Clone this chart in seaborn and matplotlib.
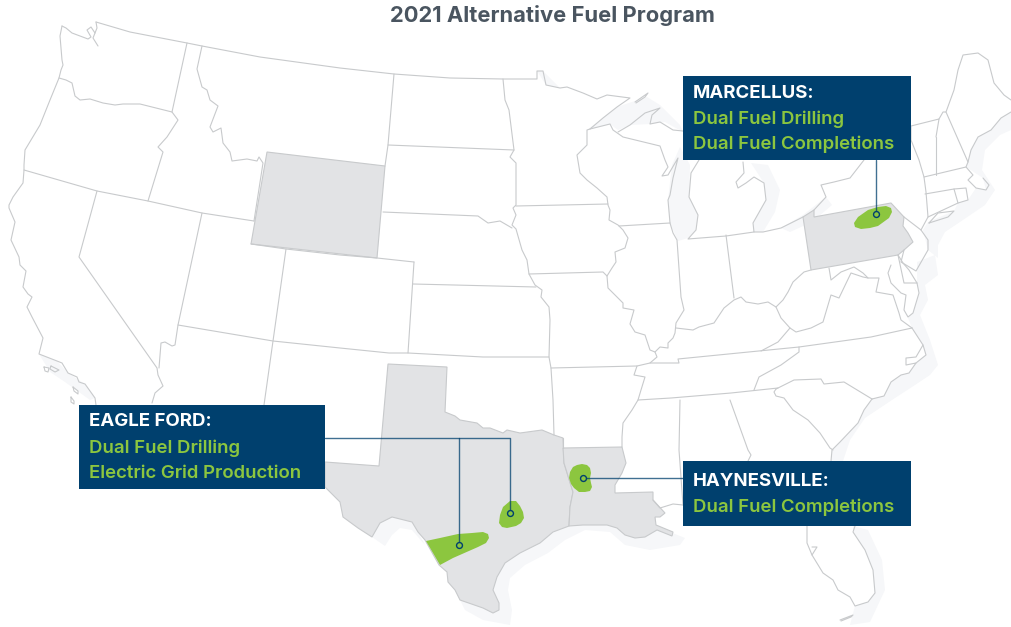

import matplotlib

matplotlib.use("Agg")

import matplotlib.pyplot as plt
import pandas as pd
import seaborn as sns

NAVY = "#00406e"
GREEN = "#8cc63f"
BORDER = "#c8cacc"
STATE_FILL = "#e2e3e5"
SHADE = "#f6f7f9"

TITLE = "2021 Alternative Fuel Program"

# highlighted states
WYOMING = [(267, 152), (385, 166), (377, 258), (251, 244)]
PENNSYLVANIA = [(803, 217), (814, 210), (814, 217), (891, 203), (904, 217), (903, 226), (908, 233), (913, 242),
                (904, 250), (898, 255), (811, 270)]
TEXAS = [(388, 364), (447, 367), (445, 412), (455, 416), (460, 420), (477, 423), (483, 428), (490, 428), (503, 433),
         (507, 430), (520, 433), (542, 430), (554, 435), (563, 438), (564, 463), (573, 492), (570, 507), (569, 526),
         (553, 532), (540, 543), (520, 553), (505, 563), (497, 577), (493, 590), (499, 603), (499, 610), (493, 613),
         (483, 608), (460, 600), (455, 590), (448, 582), (447, 572), (439, 565), (425, 540), (418, 532), (412, 522),
         (392, 517), (380, 523), (372, 537), (358, 528), (343, 517), (340, 502), (325, 487), (325, 462), (379, 466)]
LOUISIANA = [(563, 448), (622, 447), (626, 463), (622, 473), (615, 485), (615, 493), (653, 492), (653, 500),
             (665, 513), (660, 517), (655, 517), (656, 525), (673, 532), (672, 536), (657, 530), (645, 537),
             (635, 538), (625, 535), (617, 528), (607, 525), (583, 525), (569, 526), (570, 507), (573, 492), (564, 463)]

# green play areas
EAGLE_FORD_WEST = [(426, 541), (440, 538), (458, 534), (472, 533), (483, 532), (488, 534), (489, 538), (486, 543),
                   (478, 547), (453, 558), (440, 565)]
EAGLE_FORD_EAST = [(510, 501), (516, 501), (520, 506), (523, 512), (524, 518), (521, 523), (516, 526), (507, 528),
                   (502, 527), (499, 523), (500, 515), (503, 507)]
HAYNESVILLE = [(582, 464), (587, 465), (590, 468), (591, 473), (590, 478), (591, 483), (592, 487), (590, 491),
               (585, 492), (579, 492), (574, 488), (571, 484), (569, 478), (570, 472), (573, 467), (577, 465)]
MARCELLUS = [(854, 223), (858, 217), (868, 210), (878, 207), (886, 206), (891, 208), (892, 212), (889, 218),
             (878, 226), (870, 228), (861, 229), (855, 227)]

# pale water shading along the coasts
SHADES = [
    [(537, 71), (543, 71), (560, 88), (546, 85)],
    [(587, 130), (603, 118), (617, 107), (647, 97), (660, 105), (680, 125), (683, 132), (665, 122), (650, 124),
     (630, 125), (618, 130), (610, 124)],
    [(668, 200), (672, 165), (680, 147), (690, 165), (689, 197), (698, 215), (696, 230), (688, 238), (678, 241), (670, 223)],
    [(751, 163), (768, 165), (780, 190), (775, 212), (763, 232), (753, 232), (753, 223), (766, 200), (764, 183)],
    [(781, 228), (803, 215), (826, 197), (832, 205), (812, 222), (790, 232)],
    [(928, 250), (923, 230), (928, 222), (954, 211), (958, 203), (968, 200), (976, 188), (986, 190), (983, 178),
     (966, 167), (971, 150), (978, 137), (991, 130), (1001, 118), (1011, 112), (1011, 130), (1000, 135), (985, 150),
     (982, 170), (995, 190), (985, 205), (960, 222), (945, 232), (938, 245), (938, 258)],
    [(917, 262), (935, 255), (938, 275), (925, 285), (928, 300), (920, 315), (930, 340), (938, 365), (930, 375),
     (915, 385), (895, 398), (880, 408), (865, 418), (850, 440), (843, 461), (831, 461), (832, 450), (840, 442),
     (858, 423), (864, 410), (872, 399), (884, 396), (891, 382), (901, 375), (909, 373), (916, 363), (926, 355),
     (923, 345), (912, 328), (908, 318), (913, 313), (919, 293), (917, 283)],
    [(853, 526), (868, 530), (882, 560), (885, 590), (870, 622), (850, 625), (855, 606), (868, 602), (875, 593),
     (873, 570), (865, 550), (853, 532)],
    [(569, 526), (553, 532), (540, 543), (520, 553), (505, 563), (497, 577), (493, 590), (499, 603), (499, 610),
     (493, 613), (483, 608), (460, 600), (465, 610), (483, 620), (510, 625), (512, 610), (508, 590), (510, 578),
     (525, 565), (548, 553), (565, 540), (585, 530), (610, 532), (625, 545), (650, 550), (680, 545), (685, 538),
     (670, 532), (657, 530), (645, 537), (635, 538), (617, 528), (607, 525), (583, 525)],
    [(372, 537), (385, 546), (392, 535), (400, 528), (412, 530), (425, 545), (418, 532), (412, 522), (392, 517), (380, 523)],
    [(39, 354), (57, 361), (68, 373), (85, 384), (95, 398), (90, 400), (65, 382), (50, 372)],
]

# state lines and coasts
BORDERS = [
    # canada
    [(96, 22), (130, 32), (187, 43), (202, 46), (260, 57), (340, 68), (394, 74), (450, 78), (503, 79), (537, 79),
     (537, 71), (543, 71), (546, 85), (560, 88), (567, 87), (583, 93), (597, 99), (607, 95), (630, 98), (617, 107),
     (603, 118), (590, 129), (587, 130), (587, 145), (577, 155), (580, 173), (587, 180), (597, 188), (607, 197),
     (608, 205), (610, 210), (609, 220), (618, 225), (623, 230), (628, 238), (625, 248), (615, 252), (616, 262),
     (612, 268), (607, 276), (608, 288), (623, 303), (623, 308), (634, 310), (630, 324), (635, 332), (645, 335),
     (650, 350), (655, 352), (657, 357), (650, 363), (637, 366), (634, 375), (645, 377), (641, 390), (638, 400),
     (632, 410), (623, 423), (622, 437), (622, 447)],
    # washington and oregon coast
    [(62, 26), (60, 36), (62, 60), (63, 65), (61, 70), (59, 78), (50, 100), (40, 125), (25, 150), (24, 165), (24, 170),
     (23, 183), (13, 197), (9, 205), (9, 208), (15, 222), (11, 240), (19, 257), (20, 265), (26, 271), (23, 287),
     (28, 294), (32, 297), (27, 307), (32, 317), (43, 338), (39, 354), (57, 361), (62, 363), (68, 373), (77, 377),
     (79, 382), (85, 384), (95, 398), (96, 405)],
    [(62, 26), (66, 28), (72, 33), (88, 39), (91, 37), (87, 30), (91, 27), (95, 33), (93, 38), (98, 46)],
    [(96, 22), (97, 28), (95, 33)],
    [(59, 78), (66, 80), (72, 83), (75, 96), (80, 100), (90, 99), (103, 103), (115, 105), (123, 104), (140, 104), (172, 112)],
    [(187, 43), (172, 112), (178, 120), (167, 137), (158, 147), (163, 152), (148, 201)],
    [(24, 170), (97, 191), (148, 201), (202, 213), (254, 221)],
    [(97, 191), (79, 257), (157, 368), (158, 375), (163, 386), (155, 393), (152, 403)],
    [(202, 213), (178, 325), (175, 345), (172, 346), (165, 342), (161, 343), (159, 368)],
    [(178, 325), (273, 341), (340, 348), (389, 353), (408, 353), (483, 357), (549, 357)],
    [(286, 249), (273, 341), (264, 405)],
    [(251, 244), (286, 249), (340, 255), (377, 258), (414, 262)],
    [(202, 46), (197, 69), (202, 87), (207, 90), (210, 100), (218, 106), (210, 127), (213, 132), (221, 128), (223, 143),
     (230, 152), (232, 161), (247, 159), (257, 161), (259, 157), (263, 163), (254, 221)],
    [(394, 74), (388, 145), (385, 166)],
    [(388, 145), (514, 150)],
    [(503, 79), (505, 100), (509, 110), (514, 150), (510, 157), (516, 163), (516, 205), (513, 208), (516, 215),
     (512, 225), (516, 229), (522, 250), (527, 260), (529, 274), (535, 285), (542, 290), (541, 297), (549, 307),
     (550, 320), (549, 357), (551, 368), (553, 400), (554, 435)],
    [(383, 212), (478, 216), (488, 223), (500, 221), (512, 228)],
    [(516, 206), (608, 204)],
    [(529, 274), (603, 272), (607, 276)],
    [(413, 284), (536, 287)],
    [(414, 262), (408, 353)],
    [(551, 368), (637, 366)],
    [(563, 438), (563, 448)],
    [(590, 129), (610, 124), (613, 130), (623, 137), (660, 146), (665, 160), (668, 167), (662, 176), (668, 175),
     (678, 158), (673, 178), (670, 195), (668, 200), (670, 223)],
    [(619, 226), (670, 223), (673, 233), (677, 240), (681, 297), (684, 310), (676, 323), (675, 333), (673, 338),
     (668, 343), (668, 348), (660, 347), (655, 352)],
    # lake superior and the upper peninsula
    [(618, 132), (630, 125), (645, 113), (660, 108), (652, 115), (650, 124), (660, 122), (673, 130), (683, 131)],
    [(635, 102), (648, 93), (645, 97), (636, 103)],
    # lower michigan
    [(699, 160), (691, 173), (689, 197), (698, 215), (696, 230), (688, 239), (726, 236), (754, 232), (753, 223),
     (766, 200), (764, 183), (754, 177), (746, 183), (738, 188), (736, 182), (744, 173), (743, 162)],
    [(754, 232), (763, 232), (781, 228), (803, 217)],
    [(814, 210), (826, 197), (821, 185), (834, 182), (850, 178), (864, 160)],
    # new york and new england
    [(911, 126), (911, 140), (919, 160), (924, 177), (926, 192), (928, 217), (921, 230), (904, 217)],
    [(929, 223), (938, 213), (954, 211), (948, 217), (929, 223)],
    [(925, 194), (954, 189), (958, 203)],
    [(928, 217), (958, 203), (968, 200), (966, 188), (954, 189)],
    [(924, 177), (966, 167), (973, 175), (968, 180), (976, 188), (986, 190), (989, 185), (983, 178)],
    [(936, 137), (936, 175)],
    [(911, 126), (939, 119), (936, 137)],
    [(939, 119), (943, 112), (946, 112), (968, 162), (966, 167)],
    [(946, 112), (954, 90), (958, 70), (963, 55), (978, 53), (988, 60), (994, 83), (1004, 95), (1011, 100)],
    [(1011, 112), (1001, 118), (991, 130), (978, 137), (971, 150), (968, 162)],
    # ohio valley
    [(726, 235), (734, 298)],
    [(676, 328), (693, 330), (699, 327), (714, 323), (724, 308), (734, 300), (741, 297), (746, 302), (758, 304),
     (768, 302), (776, 307), (783, 300), (788, 292), (793, 282), (804, 272), (811, 270)],
    [(776, 307), (781, 318), (790, 328), (796, 332), (811, 328), (823, 322), (831, 295), (839, 298), (851, 273),
     (863, 277), (868, 278), (879, 278), (876, 292), (893, 295), (899, 313), (901, 320), (912, 328)],
    [(829, 268), (831, 280), (841, 272), (854, 267), (863, 273), (868, 278)],
    [(790, 328), (778, 342), (761, 351)],
    [(912, 328), (871, 337), (799, 347), (678, 359), (679, 363), (650, 363)],
    [(638, 400), (671, 398), (731, 393), (778, 388)],
    [(799, 347), (799, 352), (781, 365), (759, 377), (754, 390)],
    [(776, 389), (794, 380), (821, 379), (824, 384), (844, 382), (872, 399)],
    [(776, 389), (774, 392), (776, 396), (784, 398), (793, 410), (808, 420), (820, 433), (830, 448), (833, 450)],
    [(872, 399), (864, 410), (858, 423), (840, 442), (832, 450), (831, 461)],
    [(872, 399), (884, 396), (891, 382), (901, 375), (909, 373), (916, 363), (906, 365), (906, 358), (916, 357),
     (923, 345), (912, 328)],
    [(923, 345), (926, 355), (916, 363)],
    # delaware, maryland, new jersey
    [(898, 255), (904, 283), (917, 283), (919, 293), (913, 313), (908, 317), (904, 310), (906, 295), (901, 293),
     (898, 290), (891, 283), (888, 273), (891, 265)],
    [(898, 255), (903, 263), (909, 270), (917, 283)],
    [(904, 250), (901, 262), (916, 271), (928, 250), (928, 240), (921, 230)],
    # deep south
    [(680, 400), (679, 450), (683, 505)],
    [(730, 400), (748, 450), (751, 455), (748, 461)],
    [(653, 500), (660, 508), (673, 504), (683, 505)],
    [(807, 526), (807, 543), (812, 555), (823, 573), (833, 580), (838, 590), (850, 597), (855, 606), (868, 602),
     (875, 593), (873, 570), (865, 550), (853, 532), (855, 526)],
    [(840, 620), (853, 615), (851, 617), (841, 621)],
    [(812, 555), (817, 547), (812, 547)],
]

# small islands off california, as closed rings
ISLANDS = [
    [(44, 367), (49, 368), (48, 372), (45, 371)],
    [(51, 366), (59, 370), (55, 372), (50, 369)],
    [(73, 387), (78, 391), (78, 394), (74, 391)],
    [(71, 397), (74, 401), (74, 404), (71, 402)],
]

# callout panels: left, top, right, bottom
PANELS = [(683, 76, 911, 160), (79, 405, 325, 489), (683, 461, 911, 526)]

# callout text: label, x, y, colour
PANEL_TEXT = [
    ("MARCELLUS:", 693, 93, "white"),
    ("Dual Fuel Drilling", 693, 119, GREEN),
    ("Dual Fuel Completions", 693, 144, GREEN),
    ("EAGLE FORD:", 89, 422, "white"),
    ("Dual Fuel Drilling", 89, 448, GREEN),
    ("Electric Grid Production", 89, 473, GREEN),
    ("HAYNESVILLE:", 693, 481, "white"),
    ("Dual Fuel Completions", 693, 507, GREEN),
]

# leader lines and their end rings
LEADERS = [
    [(876, 160), (876, 214)],
    [(583, 478), (683, 478)],
    [(325, 438), (510, 438), (510, 513)],
    [(459, 438), (459, 545)],
]
LEADER_ENDS_X = [876, 583, 510, 459]
LEADER_ENDS_Y = [214, 478, 513, 545]


def to_frame(lines):
    rows = []
    for i, line in enumerate(lines):
        for x, y in line:
            rows.append({"line": i, "x": x, "y": y})
    return pd.DataFrame(rows)


sns.set_theme(style="white")
plt.rcParams["font.family"] = ["Inter", "DejaVu Sans"]

fig, ax = plt.subplots(figsize=(10.11, 6.27), dpi=100)
fig.subplots_adjust(left=0, right=1, top=1, bottom=0)

for shape in SHADES:
    ax.fill(*zip(*shape), color=SHADE, lw=0, zorder=1)

for state in [WYOMING, PENNSYLVANIA, TEXAS, LOUISIANA]:
    ax.fill(*zip(*state), facecolor=STATE_FILL, edgecolor=BORDER, lw=0.8, zorder=2)

sns.lineplot(data=to_frame(BORDERS + [r + r[:1] for r in ISLANDS]), x="x", y="y", units="line", estimator=None,
             sort=False, color=BORDER, lw=0.8, ax=ax, legend=False, zorder=3)

for blob in [EAGLE_FORD_WEST, EAGLE_FORD_EAST, HAYNESVILLE, MARCELLUS]:
    ax.fill(*zip(*blob), color=GREEN, lw=0, zorder=4)

sns.lineplot(data=to_frame(LEADERS), x="x", y="y", units="line", estimator=None, sort=False,
             color=NAVY, lw=1.0, alpha=0.75, ax=ax, legend=False, zorder=5)
sns.scatterplot(x=LEADER_ENDS_X, y=LEADER_ENDS_Y, s=18, color=GREEN, edgecolor=NAVY, linewidth=1.0, ax=ax,
                legend=False, zorder=6)

for left, top, right, bottom in PANELS:
    ax.fill([left, right, right, left], [top, top, bottom, bottom], color=NAVY, lw=0, zorder=7)

for label, x, y, colour in PANEL_TEXT:
    ax.text(x, y, label, color=colour, fontsize=13.4, fontweight="bold" if colour == "white" else "semibold",
            va="center", ha="left", zorder=8)

ax.text(552, 16, TITLE, color="#4a5560", fontsize=15.8, fontweight="bold", va="center", ha="center")

ax.set_xlim(0, 1011)
ax.set_ylim(627, 0)
ax.axis("off")

fig.savefig("out.png", dpi=100)
plt.close(fig)
